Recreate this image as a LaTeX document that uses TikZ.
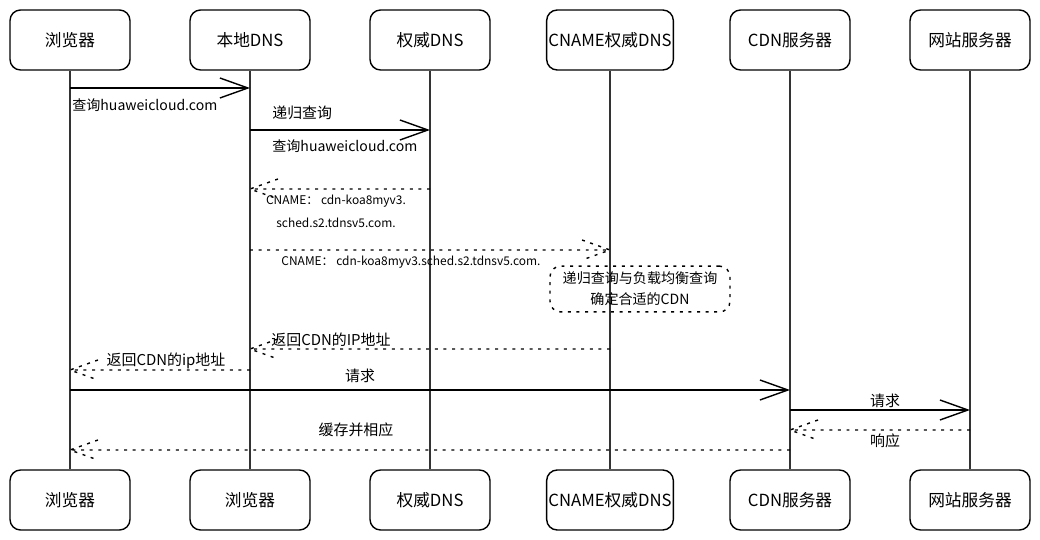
\documentclass[tikz,border=0pt]{standalone}
\usepackage{fontspec}
\setmainfont{Noto Sans CJK SC}
\usetikzlibrary{arrows.meta, positioning}

\begin{document}
\begin{tikzpicture}[
  x=0.02cm, y=-0.02cm,
  actor/.style={draw, rounded corners=6pt, line width=0.8pt, minimum width=2.4cm, minimum height=1.2cm,
                inner xsep=1pt, align=center, font=\fontsize{9.5}{11}\selectfont},
  life/.style={line width=0.85pt, draw=black!80},
  lbl/.style={inner sep=0pt, font=\fontsize{8.5}{10}\selectfont},
  small/.style={inner sep=0pt, align=center, font=\fontsize{6.8}{13}\selectfont},
  msg/.style={-{Straight Barb[length=5.6mm, width=4mm]}, line width=0.8pt},
  dots/.style={line width=0.8pt, dash pattern=on 1.7pt off 3.2pt},
  retl/.style={dots, to path={-- (\tikztotarget) ++(28,-10) -- (\tikztotarget) -- ++(28,10)}},
  retr/.style={dots, to path={-- (\tikztotarget) ++(-28,-10) -- (\tikztotarget) -- ++(-28,10)}},
  note/.style={draw, dots, rounded corners=6pt, minimum width=3.6cm, minimum height=0.8cm,
               align=center, font=\fontsize{8}{12}\selectfont}
]
  \useasboundingbox (0,0) rectangle (1040,540);

  % participants, top row
  \node[actor] (t1) at (70,40) {浏览器};
  \node[actor] (t2) at (250,40) {本地DNS};
  \node[actor] (t3) at (430,40) {权威DNS};
  \node[actor] (t4) at (610,40) {CNAME权威DNS};
  \node[actor] (t5) at (790,40) {CDN服务器};
  \node[actor] (t6) at (970,40) {网站服务器};

  % participants, bottom row
  \node[actor] (b1) at (70,500) {浏览器};
  \node[actor] (b2) at (250,500) {浏览器};
  \node[actor] (b3) at (430,500) {权威DNS};
  \node[actor] (b4) at (610,500) {CNAME权威DNS};
  \node[actor] (b5) at (790,500) {CDN服务器};
  \node[actor] (b6) at (970,500) {网站服务器};

  % lifelines
  \draw[life] (t1) -- (b1);
  \draw[life] (t2) -- (b2);
  \draw[life] (t3) -- (b3);
  \draw[life] (t4) -- (b4);
  \draw[life] (t5) -- (b5);
  \draw[life] (t6) -- (b6);

  % dns lookup
  \draw[msg] (t1 |- 0,88) -- (t2 |- 0,88);
  \node[lbl, anchor=west, font=\fontsize{8}{10}\selectfont] (q1) at (72,105) {查询huaweicloud.com};
  \draw[msg] (t2 |- 0,130) -- (t3 |- 0,130);
  \node[lbl, anchor=west] (rec) at (272,113) {递归查询};
  \node[lbl, anchor=west, font=\fontsize{8}{10}\selectfont] (q2) at (272,146) {查询huaweicloud.com};
  \draw[retl] (t3 |- 0,189) to (t2 |- 0,189);
  \node[small] (cn1) at (336,211) {CNAME： cdn-koa8myv3.\\sched.s2.tdnsv5.com.};
  \draw[retr] (t2 |- 0,250) to (t4 |- 0,250);
  \node[small] (cn2) at (411,262) {CNAME： cdn-koa8myv3.sched.s2.tdnsv5.com.};
  \node[note] (lb) at (640,289) {递归查询与负载均衡查询\\确定合适的CDN};
  \draw[retl] (t4 |- 0,349) to (t2 |- 0,349);
  \node[lbl] (ip1) at (331,340) {返回CDN的IP地址};
  \draw[retl] (t2 |- 0,370) to (t1 |- 0,370);
  \node[lbl] (ip2) at (166,361) {返回CDN的ip地址};

  % content request
  \draw[msg] (t1 |- 0,390) -- (t5 |- 0,390);
  \node[lbl] (req1) at (360,376) {请求};
  \draw[msg] (t5 |- 0,410) -- (t6 |- 0,410);
  \node[lbl] (req2) at (885,401) {请求};
  \draw[retl] (t6 |- 0,430) to (t5 |- 0,430);
  \node[lbl] (resp) at (885,441) {响应};
  \draw[retl] (t5 |- 0,450) to (t1 |- 0,450);
  \node[lbl] (cache) at (356,430) {缓存并相应};
\end{tikzpicture}
\end{document}
